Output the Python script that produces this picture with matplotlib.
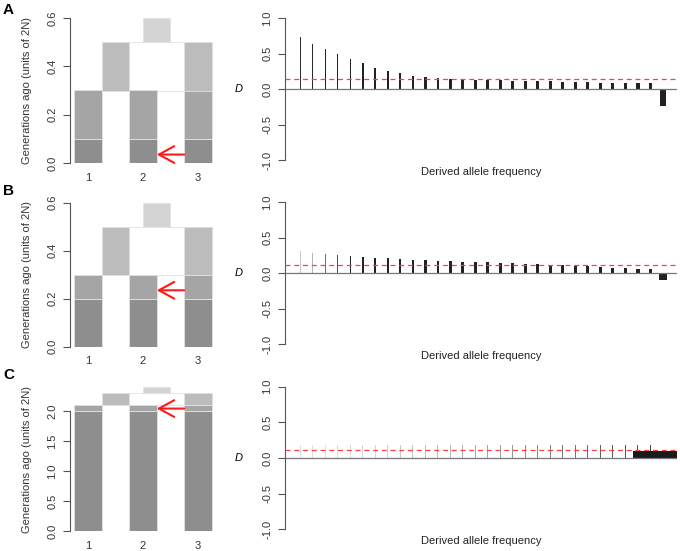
import matplotlib.pyplot as plt
from matplotlib.patches import Rectangle

plt.rcParams['font.family'] = ['Liberation Sans', 'DejaVu Sans']
plt.rcParams['axes.unicode_minus'] = False

W, H = 680, 551

# ---- data ----
panel_labels = ["A", "B", "C"]
pops = [1, 2, 3]
# times (units of 2N): end of recent dark block, split, merge, top of root
times_a = [0.1, 0.3, 0.5, 0.6]
times_b = [0.2, 0.3, 0.5, 0.6]
times_c = [2.0, 2.1, 2.3, 2.4]
arrow_time = [0.035, 0.235, 2.04]
left_yticks = [[0.0, 0.2, 0.4, 0.6], [0.0, 0.2, 0.4, 0.6], [0.0, 0.5, 1.0, 1.5, 2.0]]

freq_bins = list(range(1, 31))
d_a = [0.73, 0.64, 0.56, 0.49, 0.42, 0.36, 0.30, 0.25, 0.22, 0.19, 0.17, 0.155, 0.14, 0.135, 0.13,
       0.127, 0.122, 0.117, 0.113, 0.11, 0.108, 0.103, 0.099, 0.094, 0.09, 0.089, 0.085, 0.08, 0.085, -0.235]
d_b = [0.31, 0.29, 0.27, 0.26, 0.247, 0.233, 0.219, 0.209, 0.20, 0.19, 0.181, 0.177, 0.167, 0.163, 0.158,
       0.153, 0.144, 0.14, 0.135, 0.126, 0.116, 0.112, 0.107, 0.098, 0.088, 0.079, 0.074, 0.065, 0.056, -0.093]
d_c = [0.18, 0.18, 0.18, 0.18, 0.18, 0.18, 0.18, 0.18, 0.18, 0.18, 0.18, 0.18, 0.18, 0.18, 0.18,
       0.18, 0.18, 0.18, 0.18, 0.18, 0.18, 0.18, 0.18, 0.18, 0.18, 0.18, 0.18, 0.18, 0.18, 0.10]
d_mean = [0.137, 0.11, 0.11]

# ---- styles ----
bar_px_a = [0.8, 1, 1.1, 1.3, 1.5, 1.6, 1.8, 2, 2.1, 2.3, 2.4, 2.5, 2.6, 2.7, 2.8,
            2.9, 3, 3, 3, 3.1, 3.1, 3.2, 3.2, 3.3, 3.3, 3.3, 3.4, 3.4, 3.4, 6.5]
bar_px_b = [0.8, 1, 1.1, 1.3, 1.5, 1.6, 1.8, 2, 2.1, 2.3, 2.4, 2.5, 2.6, 2.7, 2.8,
            2.9, 3, 3, 3, 3.1, 3.1, 3.2, 3.2, 3.3, 3.3, 3.3, 3.4, 3.4, 3.4, 8]
bar_px_c = [1.3] * 29 + [59]
col_a = ['#303030', '#2a2a2a'] + ['#222222'] * 28
col_b = ['#c8c8c8', '#b4b4b4', '#707070', '#505050'] + ['#222222'] * 26
grey_c = [0.88, 0.88, 0.87, 0.86, 0.85, 0.84, 0.83, 0.81, 0.79, 0.77, 0.75, 0.73, 0.71, 0.69, 0.67,
          0.65, 0.63, 0.6, 0.57, 0.54, 0.51, 0.48, 0.45, 0.42, 0.39, 0.36, 0.33, 0.3, 0.28]
col_c = [str(g) for g in grey_c] + ['#1a1a1a']

DARK, MED, LIGHT, TOP = '#8e8e8e', '#a5a5a5', '#bcbcbc', '#d4d4d4'
EDGE = '#e2e2e2'
AX_COL = '#555555'

fig = plt.figure(figsize=(W / 100, H / 100), dpi=100)


def add_px_axes(x0, y0, x1, y1):
    return fig.add_axes([x0 / W, 1 - y1 / H, (x1 - x0) / W, (y1 - y0) / H])


def block(ax, x0, x1, y0, y1, color):
    ax.add_patch(Rectangle((x0, y0), x1 - x0, y1 - y0, facecolor=color, edgecolor=EDGE, lw=0.6))


def plot_tree(ax, times, arrow_y, yticks):
    t1, t2, t3, t4 = times
    hw = 0.25
    block(ax, 1.75, 3.25, t2, t3, 'white')
    for p in pops:
        block(ax, p - hw, p + hw, 0, t1, DARK)
        block(ax, p - hw, p + hw, t1, t2, MED)
    block(ax, 3 - hw, 3 + hw, t2, t3, LIGHT)
    block(ax, 1 + hw, 2 - hw, t2, t3, LIGHT)
    block(ax, 2.0, 2.5, t3, t4, TOP)
    ax.annotate('', xy=(2 + hw, arrow_y), xytext=(3 - hw, arrow_y),
                arrowprops=dict(arrowstyle='->,head_length=1.1,head_width=0.6', color='#ff1a1a',
                                lw=1.5, shrinkA=0, shrinkB=0, mutation_scale=10))
    ax.set_xlim(0.673, 3.4)
    ax.set_ylim(0, t4)
    ax.set_xticks(pops)
    ax.set_xticklabels([str(p) for p in pops])
    ax.set_yticks(yticks)
    ax.set_yticklabels(['%.1f' % v for v in yticks], rotation=90, va='center')
    ax.tick_params(axis='x', length=0, pad=7, labelsize=8, labelcolor='#333333')
    ax.tick_params(axis='y', length=5, width=0.8, color=AX_COL, pad=4, labelsize=8, labelcolor='#333333')
    for s in ['top', 'right', 'bottom']:
        ax.spines[s].set_visible(False)
    ax.spines['left'].set_color(AX_COL)
    ax.spines['left'].set_bounds(yticks[0], yticks[-1])
    ax.set_ylabel('Generations ago (units of 2N)', fontsize=8, color='#333333', labelpad=11)


def plot_d(ax, values, widths_px, colors, mean):
    widths = [w / 12.5 for w in widths_px]
    ax.bar(freq_bins, values, width=widths, color=colors, linewidth=0)
    ax.axhline(0, color='#777777', lw=0.9, zorder=1)
    ax.axhline(mean, color='#ff4040', lw=0.9, ls=(0, (4, 3)), zorder=3)
    ax.set_xlim(-0.224, 31.136)
    ax.set_ylim(-1, 1)
    ax.set_xticks([])
    ticks = [-1.0, -0.5, 0.0, 0.5, 1.0]
    ax.set_yticks(ticks)
    ax.set_yticklabels(['%.1f' % v for v in ticks], rotation=90, va='center')
    ax.tick_params(axis='y', length=5, width=0.8, color=AX_COL, pad=4, labelsize=8, labelcolor='#333333')
    for s in ['top', 'right', 'bottom']:
        ax.spines[s].set_visible(False)
    ax.spines['left'].set_color(AX_COL)
    ax.set_xlabel('Derived allele frequency', fontsize=8, color='#222222', labelpad=5)
    ax.set_ylabel('D', fontsize=8, style='italic', rotation=0, va='center', ha='center', labelpad=17)


left_boxes = [(70, 18, 220, 163), (70, 202.7, 220, 346.7), (70, 386.9, 220, 531.3)]
right_boxes = [(285, 18, 677, 160), (285, 202, 677, 344.3), (285, 386.7, 677, 529.3)]
tree_times = [times_a, times_b, times_c]
d_values = [d_a, d_b, d_c]
d_widths = [bar_px_a, bar_px_b, bar_px_c]
d_colors = [col_a, col_b, col_c]
label_y = [10, 191, 375]

for i in range(3):
    axl = add_px_axes(*left_boxes[i])
    plot_tree(axl, tree_times[i], arrow_time[i], left_yticks[i])
    axr = add_px_axes(*right_boxes[i])
    plot_d(axr, d_values[i], d_widths[i], d_colors[i], d_mean[i])
    fig.text(3 / W, 1 - label_y[i] / H, panel_labels[i], fontsize=11, fontweight='bold', va='center')

fig.savefig('out.png', dpi=100)
